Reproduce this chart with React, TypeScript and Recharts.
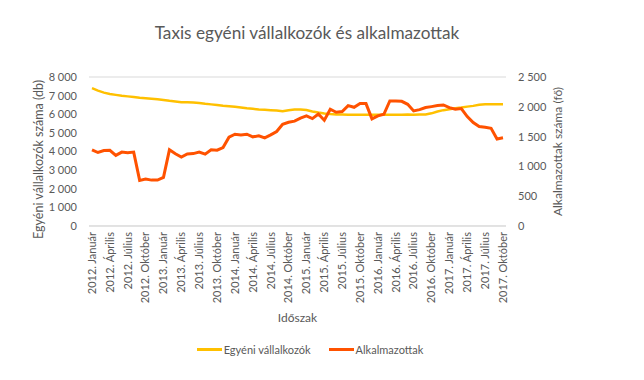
import { LineChart, Line, XAxis, YAxis, CartesianGrid, Legend, Label } from "recharts";

const years = [2012, 2013, 2014, 2015, 2016, 2017];
const monthNames = [
    "Január", "Február", "Március", "Április", "Május", "Június",
    "Július", "Augusztus", "Szeptember", "Október", "November", "December",
];

// Egyéni vállalkozók (db), 2012. január - 2017. október
const egyeni = [
    7400, 7270, 7160, 7090, 7040, 6990, 6960, 6930, 6890, 6860, 6830, 6800,
    6770, 6720, 6690, 6650, 6650, 6630, 6600, 6560, 6530, 6500, 6460, 6430,
    6400, 6360, 6320, 6290, 6260, 6240, 6220, 6200, 6160, 6220, 6250, 6260,
    6230, 6150, 6090, 6040, 6010, 5990, 5980, 5970, 5970, 5970, 5970, 5970,
    5970, 5970, 5970, 5970, 5970, 5980, 5970, 5980, 5990, 6050, 6150, 6220,
    6270, 6320, 6360, 6410, 6450, 6510, 6540, 6540, 6540, 6540,
];

// Alkalmazottak (fő)
const alkalmazottak = [
    1278, 1233, 1265, 1270, 1185, 1240, 1228, 1240, 765, 787, 770, 770,
    815, 1278, 1212, 1158, 1210, 1215, 1239, 1205, 1278, 1272, 1317, 1490,
    1540, 1529, 1540, 1496, 1512, 1479, 1529, 1585, 1708, 1741, 1760, 1810,
    1847, 1802, 1880, 1775, 1959, 1908, 1920, 2020, 1992, 2054, 2054, 1797,
    1847, 1875, 2098, 2098, 2092, 2042, 1931, 1953, 1987, 2003, 2020, 2031,
    1987, 1959, 1970, 1836, 1736, 1668, 1657, 1640, 1460, 1480,
];

const leftTicks = [0, 1000, 2000, 3000, 4000, 5000, 6000, 7000, 8000];
const rightTicks = [0, 500, 1000, 1500, 2000, 2500];
const seriesOrder = ["egyeni", "alkalmazottak"];

const periods: string[] = [];
years.forEach((y) => monthNames.forEach((m) => periods.push(`${y}. ${m}`)));

const data = egyeni.map((v, i) => ({
    period: periods[i],
    egyeni: v,
    alkalmazottak: alkalmazottak[i],
}));

const font = "Lato, 'Open Sans', sans-serif";
const textColor = "#595959";

const fmt = (v: number) => String(v).replace(/\B(?=(\d{3})+(?!\d))/g, " ");

const PeriodTick = ({ x, y, payload }: any) => (
    <text
        x={x}
        y={y}
        transform={`rotate(-90 ${x} ${y})`}
        textAnchor="end"
        dy="0.35em"
        fontSize={11}
        fill={textColor}
        fontFamily={font}
    >
        {payload.value}
    </text>
);

const LegendContent = ({ payload }: any) => {
    const items = [...(payload || [])].sort(
        (a: any, b: any) => seriesOrder.indexOf(a.dataKey) - seriesOrder.indexOf(b.dataKey)
    );
    return (
        <div style={{ display: "flex", justifyContent: "center", height: 16, alignItems: "center", fontFamily: font, fontSize: 11, color: textColor, paddingRight: 24 }}>
            {items.map((p: any) => (
                <div key={p.value} style={{ display: "flex", alignItems: "center", margin: "0 9px" }}>
                    <span style={{ display: "inline-block", width: 25, height: 3, background: p.color, marginRight: 2 }} />
                    {p.value}
                </div>
            ))}
        </div>
    );
};

export default function App() {
    return (
        <div style={{ position: "absolute", left: 0, top: 0, width: 644, height: 380, background: "#fff" }}>
            <div style={{ position: "absolute", top: 22, left: 0, width: 614, textAlign: "center", fontFamily: font, fontSize: 17.2, color: textColor }}>
                Taxis egyéni vállalkozók és alkalmazottak
            </div>
            <LineChart width={644} height={380} data={data} margin={{ top: 77, right: 0, left: 0, bottom: 23 }}>
                <CartesianGrid vertical={false} stroke="#d9d9d9" />
                <XAxis
                    dataKey="period"
                    interval={2}
                    tick={<PeriodTick />}
                    tickLine={false}
                    tickSize={0}
                    tickMargin={6}
                    axisLine={{ stroke: "#d9d9d9" }}
                    height={115}
                    padding={{ left: 3, right: 3 }}
                >
                    <Label value="Időszak" position="insideBottom" offset={19} fill={textColor} fontSize={12} fontFamily={font} />
                </XAxis>
                <YAxis
                    yAxisId="left"
                    domain={[0, 8000]}
                    ticks={leftTicks}
                    interval={0}
                    tickFormatter={fmt}
                    width={89}
                    axisLine={false}
                    tickLine={false}
                    tickSize={0}
                    tickMargin={12}
                    tick={{ fill: textColor, fontSize: 11, fontFamily: font }}
                >
                    <Label value="Egyéni vállalkozók száma (db)" angle={-90} position="center" dx={-6} dy={8} fill={textColor} fontSize={12.5} fontFamily={font} />
                </YAxis>
                <YAxis
                    yAxisId="right"
                    orientation="right"
                    domain={[0, 2500]}
                    ticks={rightTicks}
                    interval={0}
                    tickFormatter={fmt}
                    width={138}
                    axisLine={false}
                    tickLine={false}
                    tickSize={0}
                    tickMargin={12}
                    tick={{ fill: textColor, fontSize: 11, fontFamily: font, textAnchor: "start" }}
                >
                    <Label value="Alkalmazottak száma (fő)" angle={-90} position="center" dx={-17} fill={textColor} fontSize={12} fontFamily={font} />
                </YAxis>
                <Legend verticalAlign="bottom" content={<LegendContent />} />
                <Line
                    yAxisId="left"
                    dataKey="egyeni"
                    name="Egyéni vállalkozók"
                    stroke="#FFC000"
                    strokeWidth={2.5}
                    dot={false}
                    type="linear"
                    isAnimationActive={false}
                />
                <Line
                    yAxisId="right"
                    dataKey="alkalmazottak"
                    name="Alkalmazottak"
                    stroke="#FF5200"
                    strokeWidth={3}
                    dot={false}
                    type="linear"
                    isAnimationActive={false}
                />
            </LineChart>
        </div>
    );
}
